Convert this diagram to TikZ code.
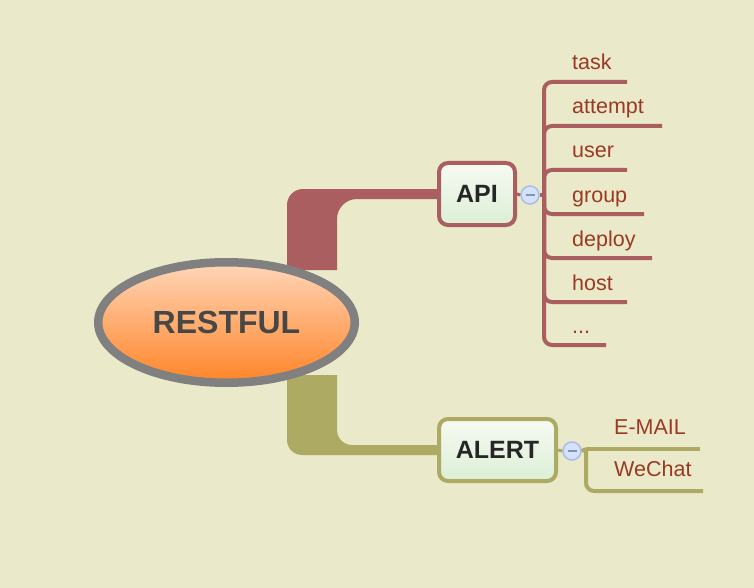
\documentclass[tikz,border=0pt]{standalone}
\usepackage{fontspec}
\setmainfont{Liberation Sans}
\usetikzlibrary{shapes.geometric}
\definecolor{bg}{HTML}{EAE9CA}
\definecolor{redb}{HTML}{AA5E5F}
\definecolor{oliveb}{HTML}{ADAA63}
\definecolor{leaftxt}{HTML}{9A3A24}
\definecolor{btnfill}{HTML}{D6E2FA}
\definecolor{btnline}{HTML}{A9BDEB}
\definecolor{btnminus}{HTML}{8092C4}
\definecolor{eltop}{HTML}{FFD6B8}
\definecolor{elbot}{HTML}{FF8428}
\definecolor{tptop}{HTML}{F6FAF2}
\definecolor{tpbot}{HTML}{DCEFD6}
\begin{document}
\begin{tikzpicture}[x=1pt,y=-1pt,
  topic/.style={rectangle, rounded corners=9pt, line width=4pt, minimum height=62pt,
    inner sep=0pt, top color=tptop, bottom color=tpbot,
    font=\fontsize{25}{30}\selectfont\bfseries, text=black!85},
  btn/.style={circle, minimum size=18pt, inner sep=0pt, fill=btnfill, draw=btnline, line width=1.5pt},
  minus/.style={btnminus, line width=1.5pt},
  leaf/.style={anchor=base west, inner sep=0pt, text=leaftxt, font=\fontsize{21.5}{25}\selectfont},
  rline/.style={redb, line width=4pt, rounded corners=8pt},
  oline/.style={oliveb, line width=4pt, rounded corners=8pt}]
\fill[bg] (0,0) rectangle (754,588);
\useasboundingbox (0,0) rectangle (754,588);

% main branches
\fill[redb] (287,270) -- (287,205) arc[start angle=180,end angle=270,radius=16]
  -- (470,189) -- (470,199) -- (357,199) arc[start angle=270,end angle=180,radius=20]
  -- (337,270) -- cycle;
\fill[oliveb] (287,375) -- (287,440) arc[start angle=180,end angle=90,radius=15]
  -- (470,455) -- (470,445) -- (352,445) arc[start angle=90,end angle=180,radius=15]
  -- (337,375) -- cycle;

% central topic
\node[ellipse, minimum width=256.5pt, minimum height=120.5pt, inner sep=0pt,
  draw=black!50, line width=8.5pt, top color=eltop, bottom color=elbot,
  font=\fontsize{32}{36}\selectfont\bfseries, text=black!72] (rest) at (226.5,322.5) {RESTFUL};

% API
\node[topic, draw=redb, minimum width=76pt] (api) at (477,194) {API};
\node[btn] (b1) at (530,195) {};
\draw[redb, line width=3pt] (api.east) -- (b1.west);
\draw[minus] ([xshift=-4.5pt]b1.center) -- ([xshift=4.5pt]b1.center);
\coordinate (j1) at (544,195);
\draw[redb, line width=4pt] (b1.east) -- (j1);

\node[leaf] (l1) at (572,70) {task};
\node[leaf] (l2) at (572,114) {attempt};
\node[leaf] (l3) at (572,158) {user};
\node[leaf] (l4) at (572,202) {group};
\node[leaf] (l5) at (572,246) {deploy};
\node[leaf] (l6) at (572,290) {host};
\node[leaf] (l7) at (572,333) {...};
\draw[rline] (j1) -- (544,82) -- (627,82);
\draw[rline] (j1) -- (544,126) -- (662,126);
\draw[rline] (j1) -- (544,170) -- (627,170);
\draw[rline] (j1) -- (544,214) -- (644,214);
\draw[rline] (j1) -- (544,258) -- (652,258);
\draw[rline] (j1) -- (544,302) -- (627,302);
\draw[rline] (j1) -- (544,345) -- (606,345);

% ALERT
\node[topic, draw=oliveb, minimum width=117pt] (alert) at (497.5,450) {ALERT};
\node[btn] (b2) at (572,451) {};
\draw[oliveb, line width=3pt] (alert.east) -- (b2.west);
\draw[minus] ([xshift=-4.5pt]b2.center) -- ([xshift=4.5pt]b2.center);
\coordinate (j2) at (586,449);
\draw[oliveb, line width=4pt] (b2.east) -- (j2);
\node[leaf] (e1) at (614,434) {E-MAIL};
\node[leaf] (e2) at (614,476) {WeChat};
\draw[oline] (j2) -- (700,449);
\draw[oline] (j2) -- (586,491) -- (703,491);
\end{tikzpicture}
\end{document}
